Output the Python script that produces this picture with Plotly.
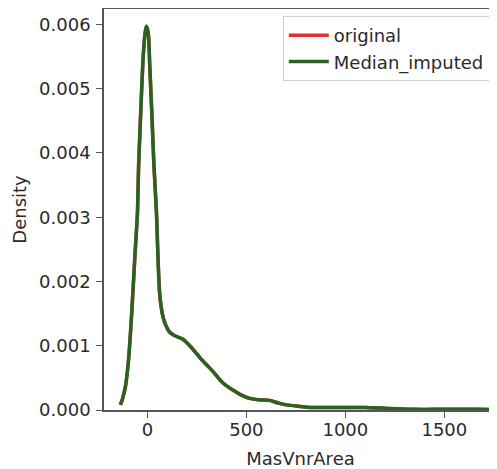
import plotly.graph_objects as go

# KDE curve (MasVnrArea vs density)
mas_vnr_area = [-136, -125, -111, -95, -78, -64, -50, -44, -34, -22, -12, -5,
                5, 12, 23, 33, 46, 54, 62, 70, 79, 88, 96, 110, 130, 150, 180,
                220, 264, 300, 331, 382, 432, 470, 517, 560, 618, 660, 702,
                760, 837, 900, 1000, 1100, 1180, 1250, 1350, 1450, 1550, 1650, 1746]
density_original = [0.00008, 0.00018, 0.00036, 0.00078, 0.00156, 0.00234,
                    0.00307, 0.00382, 0.00459, 0.00545, 0.00585, 0.00597,
                    0.00585, 0.00537, 0.00459, 0.00382, 0.00307, 0.00234,
                    0.00182, 0.00160, 0.00145, 0.00136, 0.00130, 0.00122,
                    0.00117, 0.00114, 0.00110, 0.00098, 0.00082, 0.00070,
                    0.00060, 0.00042, 0.00031, 0.00024, 0.00018, 0.00016,
                    0.00015, 0.00011, 0.00008, 0.00006, 0.00004, 0.00004,
                    0.00004, 0.00004, 0.00003, 0.00002, 0.00001, 0.00001,
                    0.00001, 0.00001, 0.000005]
density_median_imputed = [0.00008, 0.00018, 0.00036, 0.00078, 0.00156, 0.00234,
                          0.00307, 0.00382, 0.00459, 0.00545, 0.00585, 0.00597,
                          0.00585, 0.00537, 0.00459, 0.00382, 0.00307, 0.00234,
                          0.00182, 0.00160, 0.00145, 0.00136, 0.00130, 0.00122,
                          0.00117, 0.00114, 0.00110, 0.00098, 0.00082, 0.00070,
                          0.00060, 0.00042, 0.00031, 0.00024, 0.00018, 0.00016,
                          0.00015, 0.00011, 0.00008, 0.00006, 0.00004, 0.00004,
                          0.00004, 0.00004, 0.00003, 0.00002, 0.00001, 0.00001,
                          0.00001, 0.00001, 0.000005]

x_ticks = [0, 500, 1000, 1500]
y_ticks = [0.000, 0.001, 0.002, 0.003, 0.004, 0.005, 0.006]
y_tick_labels = ["0.000", "0.001", "0.002", "0.003", "0.004", "0.005", "0.006"]

FONT = "DejaVu Sans"
TXT = "#2a2a2a"
AX = "#555555"
FS = 18

fig = go.Figure()
fig.add_trace(go.Scatter(x=mas_vnr_area, y=density_original, mode="lines",
                         name="original", line=dict(color="#e03030", width=3.5, shape="spline", smoothing=0.6)))
fig.add_trace(go.Scatter(x=mas_vnr_area, y=density_median_imputed, mode="lines",
                         name="Median_imputed", line=dict(color="#2a6320", width=3.5, shape="spline", smoothing=0.6)))

# the page body has an 8px margin, so the figure is sized/margined to compensate
fig.update_layout(
    width=489, height=461,
    margin=dict(l=96, r=0, t=1, b=59, autoexpand=False),
    paper_bgcolor="white", plot_bgcolor="white",
    font=dict(family=FONT, size=FS, color=TXT),
    showlegend=True,
    legend=dict(x=0.455, y=0.9825, xanchor="left", yanchor="top",
                bgcolor="rgba(255,255,255,0.8)", bordercolor="#d0d0d0", borderwidth=1,
                font=dict(family=FONT, size=FS, color=TXT),
                tracegroupgap=0, itemwidth=40),
    xaxis=dict(range=[-219, 1766], tickmode="array", tickvals=x_ticks,
               ticks="outside", ticklen=6, tickwidth=1.3, tickcolor=AX,
               showline=True, linecolor=AX, linewidth=1.5, mirror=True,
               showgrid=False, zeroline=False, automargin=False,
               ticklabelstandoff=-3,
               title=dict(text="MasVnrArea", standoff=15, font=dict(family=FONT, size=FS, color=TXT))),
    yaxis=dict(range=[0, 0.00624], tickmode="array", tickvals=y_ticks, ticktext=y_tick_labels,
               ticks="outside", ticklen=6, tickwidth=1.3, tickcolor=AX,
               showline=True, linecolor=AX, linewidth=1.5, mirror=False,
               showgrid=False, zeroline=False, automargin=False,
               ticklabelstandoff=2,
               title=dict(text="Density", standoff=8, font=dict(family=FONT, size=FS, color=TXT))),
)

fig.write_html("out.html")
